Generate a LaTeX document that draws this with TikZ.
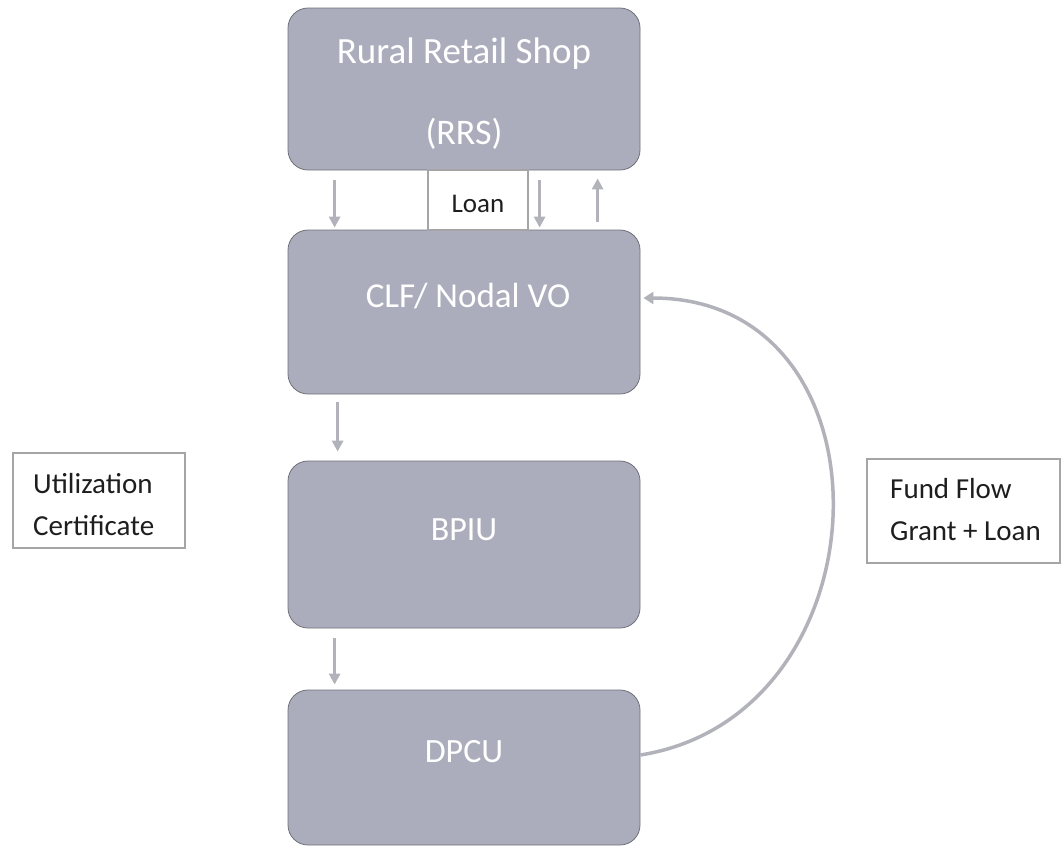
\documentclass[tikz,border=0pt]{standalone}
\usepackage{fontspec}
\setmainfont{Carlito}
\usetikzlibrary{arrows.meta}
\definecolor{boxfill}{RGB}{171,173,188}
\definecolor{boxline}{RGB}{110,112,120}
\definecolor{arrowgray}{RGB}{178,178,186}
\definecolor{labelline}{RGB}{165,165,165}
\definecolor{labeltext}{RGB}{30,30,30}
\tikzset{
  flowbox/.style={draw=boxline, line width=0.8pt, fill=boxfill, rounded corners=20pt,
    minimum width=352pt, inner sep=0pt},
  boxtext/.style={text=white, font=\fontsize{34}{40}\selectfont, anchor=base, inner sep=0pt},
  labelbox/.style={draw=labelline, line width=2pt, fill=white, inner sep=0pt},
  labeltxt/.style={text=labeltext, font=\fontsize{29}{35}\selectfont, anchor=base west, inner sep=0pt},
  smallarrow/.style={draw=arrowgray, line width=3pt, -{Triangle[width=11pt,length=11pt]}},
  bigarrow/.style={draw=arrowgray, line width=3.5pt, -{Triangle[width=12pt,length=10pt]}}
}
\begin{document}
\begin{tikzpicture}[x=1pt,y=-1pt]
\useasboundingbox (0,0) rectangle (1064,847);

% main boxes
\node[flowbox, minimum height=162pt] (rrs) at (464,89) {};
\node[flowbox, minimum height=164pt] (clf) at (464,312) {};
\node[flowbox, minimum height=167pt] (bpiu) at (464,544.5) {};
\node[flowbox, minimum height=155pt] (dpcu) at (464,767.5) {};

% box texts
\node[boxtext, font=\fontsize{37}{42}\selectfont] (t1) at (464,63) {Rural Retail Shop};
\node[boxtext, font=\fontsize{36}{42}\selectfont] (t2) at (464,144) {(RRS)};
\node[boxtext, font=\fontsize{35}{40}\selectfont] (t3) at (468,307) {CLF/ Nodal VO};
\node[boxtext] (t4) at (464,540) {BPIU};
\node[boxtext] (t5) at (464,762) {DPCU};

% Loan box
\node[labelbox, minimum width=100pt, minimum height=60pt] (loanbox) at (478,200) {};
\node[text=labeltext, font=\fontsize{27}{32}\selectfont, anchor=base, inner sep=0pt] (loan) at (478,212) {Loan};

% small arrows
\draw[smallarrow] ([xshift=47pt,yshift=-10pt]rrs.south west) -- ([xshift=47pt,yshift=2pt]clf.north west);
\draw[smallarrow] ([xshift=252pt,yshift=-10pt]rrs.south west) -- ([xshift=252pt,yshift=2pt]clf.north west);
\draw[smallarrow] ([xshift=310pt,yshift=8pt]clf.north west) -- ([xshift=310pt,yshift=-8pt]rrs.south west);
\draw[smallarrow] ([xshift=50pt,yshift=-8pt]clf.south west) -- ([xshift=50pt,yshift=9pt]bpiu.north west);
\draw[smallarrow] ([xshift=47pt,yshift=-10pt]bpiu.south west) -- ([xshift=47pt,yshift=5pt]dpcu.north west);

% curved fund flow arrow
\draw[bigarrow] ([yshift=12.5pt]dpcu.east) .. controls +(250,-40) and +(257,0) .. ([xshift=3pt,yshift=14pt]clf.east);

% side labels
\node[labelbox, minimum width=172pt, minimum height=95pt] (ucbox) at (99,500.5) {};
\node[labeltxt] (uc1) at (33,493) {Utilization};
\node[labeltxt] (uc2) at (33,535) {Certificate};

\node[labelbox, minimum width=193pt, minimum height=104pt] (ffbox) at (963.5,511) {};
\node[labeltxt] (ff1) at (890,498) {Fund Flow};
\node[labeltxt] (ff2) at (890,540) {Grant + Loan};
\end{tikzpicture}
\end{document}
